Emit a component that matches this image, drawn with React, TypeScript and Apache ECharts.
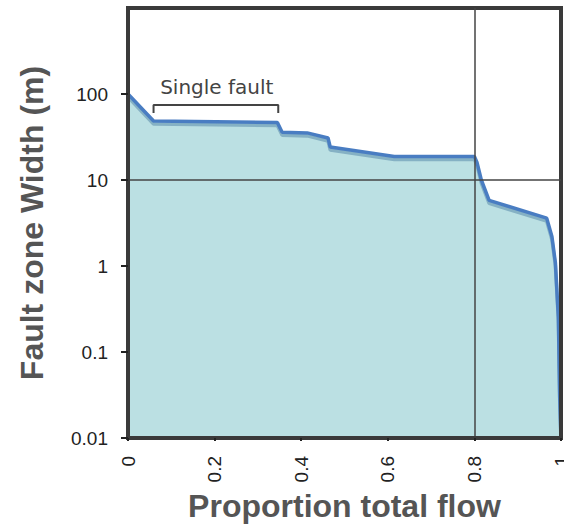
import React, { useEffect, useRef } from "react";
import * as echarts from "echarts";

// Cumulative flow curve: proportion of total flow vs. fault zone width
const flowProportion = [0, 0.059, 0.345, 0.356, 0.414, 0.462, 0.467, 0.615, 0.8, 0.806, 0.816, 0.834, 0.967, 0.979, 0.987, 0.994, 0.997, 1.0];
const zoneWidth = [100, 48.5, 46.5, 36, 35.3, 30.8, 24.2, 18.8, 18.8, 16, 10, 5.8, 3.6, 2.2, 1.1, 0.25, 0.03, 0.01];

// Bracket marking the single-fault segment
const bracketX = [0.059, 0.059, 0.347, 0.347];
const bracketY = [60, 74.5, 74.5, 60];
const bracketLabel = "Single fault";
const bracketLabelAt: [number, number] = [0.205, 122];

const yTicks = [0.01, 0.1, 1, 10, 100];
const refX = 0.8;
const refY = 10;

const xTitle = "Proportion total flow";
const yTitle = "Fault zone Width (m)";

export default function App() {
  const ref = useRef<HTMLDivElement>(null);

  useEffect(() => {
    if (!ref.current) return;
    const chart = echarts.init(ref.current, undefined, { renderer: "svg" });
    const curve = flowProportion.map((x, i) => [x, zoneWidth[i]]);
    const bracket = bracketX.map((x, i) => [x, bracketY[i]]);
    const tickFont = { fontFamily: "Liberation Sans", fontSize: 19, color: "#222" };
    const titleFont = { fontFamily: "Liberation Sans", fontSize: 32, fontWeight: "bold" as const, color: "#555" };

    chart.setOption({
      animation: false,
      backgroundColor: "#fff",
      grid: {
        left: 128,
        right: 3,
        top: 8,
        bottom: 92,
        outerBoundsMode: "none",
        containLabel: false,
        show: true,
        z: 5,
        borderColor: "#3a3a3a",
        borderWidth: 4,
        backgroundColor: "transparent",
      },
      xAxis: {
        type: "value",
        min: 0,
        max: 1,
        interval: 0.2,
        z: 6,
        name: xTitle,
        nameLocation: "middle",
        nameGap: 50,
        nameTextStyle: titleFont,
        axisLine: { show: true, lineStyle: { color: "#3a3a3a", width: 4 } },
        axisTick: { show: true, length: 3, lineStyle: { color: "#222", width: 2 } },
        axisLabel: {
          ...tickFont,
          rotate: 90,
          margin: 18,
          formatter: (v: number) => String(+v.toFixed(1)),
        },
        splitLine: { show: false },
      },
      yAxis: {
        type: "log",
        logBase: 10,
        min: 0.01,
        max: 1000,
        z: 6,
        name: yTitle,
        nameLocation: "middle",
        nameGap: 80,
        nameTextStyle: titleFont,
        axisLine: { show: true, lineStyle: { color: "#3a3a3a", width: 4 } },
        axisTick: {
          show: true,
          length: 7,
          customValues: yTicks,
          lineStyle: { color: "#222", width: 2 },
        },
        axisLabel: {
          ...tickFont,
          margin: 20,
          customValues: yTicks,
          formatter: (v: number) => String(v),
        },
        splitLine: { show: false },
      },
      series: [
        {
          type: "line",
          data: curve,
          symbol: "none",
          silent: true,
          z: 3,
          lineStyle: {
            color: "#4a7dc2",
            width: 3.5,
            shadowColor: "rgba(80,130,165,0.5)",
            shadowOffsetY: 3,
            shadowBlur: 0,
          },
          areaStyle: { color: "#bbe0e3", opacity: 1, origin: "start" },
          markLine: {
            silent: true,
            symbol: "none",
            label: { show: false },
            lineStyle: { color: "#444", width: 1.5, type: "solid" },
            data: [{ xAxis: refX }, { yAxis: refY }],
          },
        },
        {
          type: "line",
          data: bracket,
          symbol: "none",
          silent: true,
          z: 4,
          lineStyle: { color: "#444", width: 2 },
          markPoint: {
            symbol: "circle",
            symbolSize: 0,
            silent: true,
            label: {
              show: true,
              position: "inside",
              formatter: bracketLabel,
              fontFamily: "DejaVu Sans",
              fontSize: 20,
              color: "#444",
            },
            data: [{ coord: bracketLabelAt }],
          },
        },
      ],
    });

    return () => chart.dispose();
  }, []);

  return (
    <div
      ref={ref}
      style={{ position: "absolute", left: 0, top: 0, width: 564, height: 530 }}
    />
  );
}
